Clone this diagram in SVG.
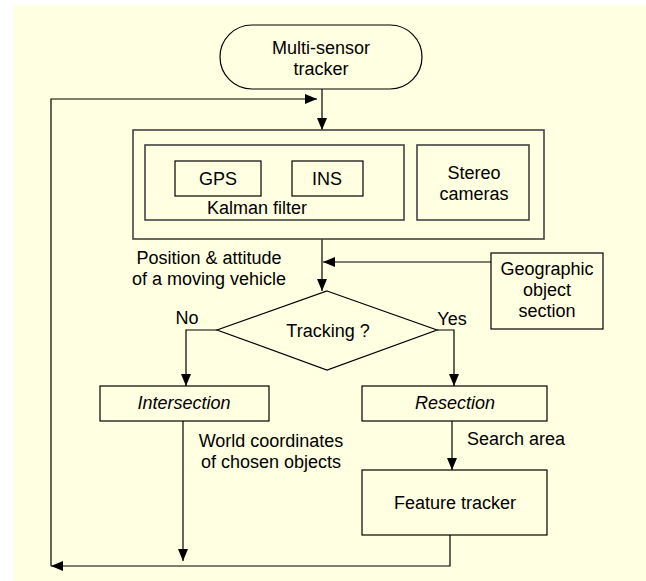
<svg xmlns="http://www.w3.org/2000/svg" width="646" height="581" viewBox="0 0 646 581">
<defs>
<style>
text{font-family:"Liberation Sans",Arial,sans-serif;font-size:18px;fill:#000;text-anchor:middle}
.it{font-style:italic}
.box{fill:none;stroke:#000;stroke-width:1.2}
.gbox{fill:none;stroke:#444;stroke-width:1.6}
.ln{fill:none;stroke:#000;stroke-width:1.2}
</style>
<marker id="ah" viewBox="0 0 12 10" refX="12" refY="5" markerWidth="12" markerHeight="10" markerUnits="userSpaceOnUse" orient="auto">
<path d="M0,0 L12,5 L0,10 Z" fill="#000"/>
</marker>
</defs>
<rect x="13" y="5" width="633" height="576" fill="#FFFFE1"/>
<g id="connectors">
<line class="ln" x1="322" y1="89" x2="322" y2="130" marker-end="url(#ah)"/>
<polyline class="ln" points="51,566 51,99 317,99" marker-end="url(#ah)"/>
<line class="ln" x1="322" y1="239" x2="322" y2="291" marker-end="url(#ah)"/>
<line class="ln" x1="491" y1="262" x2="323" y2="262" marker-end="url(#ah)"/>
<polyline class="ln" points="217,330 186,330 186,386" marker-end="url(#ah)"/>
<polyline class="ln" points="437,330 454,330 454,386" marker-end="url(#ah)"/>
<line class="ln" x1="183" y1="421" x2="183" y2="561" marker-end="url(#ah)"/>
<line class="ln" x1="452" y1="421" x2="452" y2="470" marker-end="url(#ah)"/>
<polyline class="ln" points="450,535 450,566 51,566" marker-end="url(#ah)"/>
</g>
<g id="start">
<rect class="box" x="220" y="25" width="202" height="64" rx="32" ry="32"/>
<text x="321" y="54">Multi-sensor</text>
<text x="321" y="75">tracker</text>
</g>
<g id="sensors">
<rect class="gbox" x="133" y="130" width="411" height="109"/>
</g>
<g id="kalman">
<rect class="gbox" x="145" y="145" width="259" height="75"/>
<text x="257" y="214">Kalman filter</text>
</g>
<g id="gps">
<rect class="box" x="175" y="161" width="86" height="35"/>
<text x="218" y="185">GPS</text>
</g>
<g id="ins">
<rect class="box" x="292" y="161" width="71" height="35"/>
<text x="327" y="185">INS</text>
</g>
<g id="stereo">
<rect class="gbox" x="417" y="145" width="112" height="75"/>
<text x="474" y="179">Stereo</text>
<text x="474" y="200">cameras</text>
</g>
<g id="geo">
<rect class="box" x="491" y="253" width="112" height="76"/>
<text x="547" y="275">Geographic</text>
<text x="547" y="296">object</text>
<text x="547" y="317">section</text>
</g>
<g id="labels">
<text x="209" y="264">Position &amp; attitude</text>
<text x="209" y="285">of a moving vehicle</text>
<text x="187" y="324">No</text>
<text x="452" y="325">Yes</text>
<text x="271" y="447">World coordinates</text>
<text x="271" y="468">of chosen objects</text>
<text x="467" y="445" style="text-anchor:start">Search area</text>
</g>
<g id="decision">
<polygon class="box" points="327,291 437,330 327,370 217,330"/>
<text x="328" y="337">Tracking ?</text>
</g>
<g id="intersection">
<rect class="box" x="100" y="386" width="169" height="35"/>
<text class="it" x="184" y="409">Intersection</text>
</g>
<g id="resection">
<rect class="box" x="362" y="386" width="185" height="35"/>
<text class="it" x="455" y="409">Resection</text>
</g>
<g id="feature">
<rect class="box" x="362" y="470" width="185" height="65"/>
<text x="455" y="509">Feature tracker</text>
</g>
</svg>
